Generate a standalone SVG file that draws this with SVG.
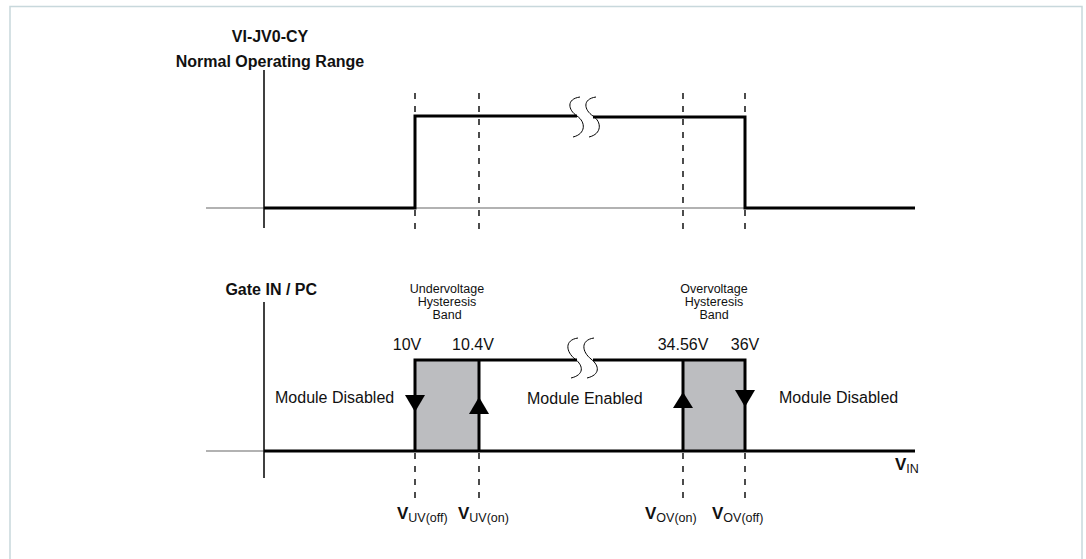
<svg xmlns="http://www.w3.org/2000/svg" width="1086" height="559" viewBox="0 0 1086 559">
<style>
text{font-family:"Liberation Sans",Arial,sans-serif;fill:#111}
.b{font-weight:bold;font-size:16px}
.r{font-size:16px}
.s{font-size:12.5px}
.v{font-weight:bold;font-size:17px}
.sub{font-size:12.5px}
.base{stroke:#666;stroke-width:1.2;fill:none}
.axis{stroke:#000;stroke-width:1.5;fill:none}
.sig{stroke:#000;stroke-width:3;fill:none;stroke-linejoin:miter}
.dash{stroke:#000;stroke-width:1.4;stroke-dasharray:6 7;fill:none}
.brk{stroke:#000;stroke-width:1;fill:none}
.band{fill:#bcbdc0}
.arr{fill:#000}
</style>
<rect x="10" y="6.5" width="1072" height="560" fill="#fff" stroke="#c8d8dc" stroke-width="1.5"/>
<g id="title">
<text class="b" x="270" y="42" text-anchor="middle">VI-JV0-CY</text>
<text class="b" x="270" y="67" text-anchor="middle">Normal Operating Range</text>
</g>
<g id="top-plot">
<line class="base" x1="206" y1="208" x2="915" y2="208"/>
<line class="axis" x1="264" y1="70" x2="264" y2="228"/>
<path class="sig" d="M264 208 H415 V116 H577"/>
<path class="sig" d="M593 117 H745 V208 H915"/>
<path class="brk" d="M580 97 C566 99 568 110 577 116 C586 122 586 134 573 137"/>
<path class="brk" d="M596 97 C582 99 584 110 593 116 C602 122 602 134 589 137"/>
</g>
<g id="bottom-plot">
<rect class="band" x="415" y="360" width="64" height="91"/>
<rect class="band" x="683" y="360" width="62" height="91"/>
<line class="base" x1="206" y1="451" x2="915" y2="451"/>
<line class="axis" x1="264" y1="302" x2="264" y2="478"/>
<path class="sig" d="M264 451 H915"/>
<path class="sig" d="M415 451 V360 H577"/>
<path class="sig" d="M479 451 V360"/>
<path class="sig" d="M593 360 H745 V451"/>
<path class="sig" d="M683 451 V360"/>
<path class="brk" d="M578 338 C564 340 566 352 575 359 C584 366 584 375 571 378"/>
<path class="brk" d="M594 338 C580 340 582 352 591 359 C600 366 600 375 587 378"/>
</g>
<g id="arrows">
<polygon class="arr" points="405,395 425,395 415,412"/>
<polygon class="arr" points="469,414 489,414 479,397"/>
<polygon class="arr" points="673,408 693,408 683,392"/>
<polygon class="arr" points="735,390 755,390 745,407"/>
</g>
<g id="connectors">
<line class="dash" x1="415" y1="93" x2="415" y2="231"/>
<line class="dash" x1="479" y1="93" x2="479" y2="231"/>
<line class="dash" x1="683" y1="93" x2="683" y2="231"/>
<line class="dash" x1="745" y1="93" x2="745" y2="231"/>
<line class="dash" x1="415" y1="453" x2="415" y2="502"/>
<line class="dash" x1="479" y1="453" x2="479" y2="502"/>
<line class="dash" x1="683" y1="453" x2="683" y2="502"/>
<line class="dash" x1="745" y1="453" x2="745" y2="502"/>
</g>
<g id="labels">
<text class="b" x="317" y="295" text-anchor="end">Gate IN / PC</text>
<text class="s" x="447" y="293" text-anchor="middle">Undervoltage</text>
<text class="s" x="447" y="306" text-anchor="middle">Hysteresis</text>
<text class="s" x="447" y="319" text-anchor="middle">Band</text>
<text class="s" x="714" y="293" text-anchor="middle">Overvoltage</text>
<text class="s" x="714" y="306" text-anchor="middle">Hysteresis</text>
<text class="s" x="714" y="319" text-anchor="middle">Band</text>
<text class="r" x="407" y="350" text-anchor="middle">10V</text>
<text class="r" x="473" y="350" text-anchor="middle">10.4V</text>
<text class="r" x="683" y="350" text-anchor="middle">34.56V</text>
<text class="r" x="745" y="350" text-anchor="middle">36V</text>
<text class="r" x="275" y="403">Module Disabled</text>
<text class="r" x="527" y="404">Module Enabled</text>
<text class="r" x="779" y="403">Module Disabled</text>
<text x="895" y="470"><tspan class="v">V</tspan><tspan class="sub" dy="3">IN</tspan></text>
<text x="397" y="519"><tspan class="v">V</tspan><tspan class="sub" dy="3">UV(off)</tspan></text>
<text x="458" y="519"><tspan class="v">V</tspan><tspan class="sub" dy="3">UV(on)</tspan></text>
<text x="645" y="519"><tspan class="v">V</tspan><tspan class="sub" dy="3">OV(on)</tspan></text>
<text x="712" y="519"><tspan class="v">V</tspan><tspan class="sub" dy="3">OV(off)</tspan></text>
</g>
</svg>
